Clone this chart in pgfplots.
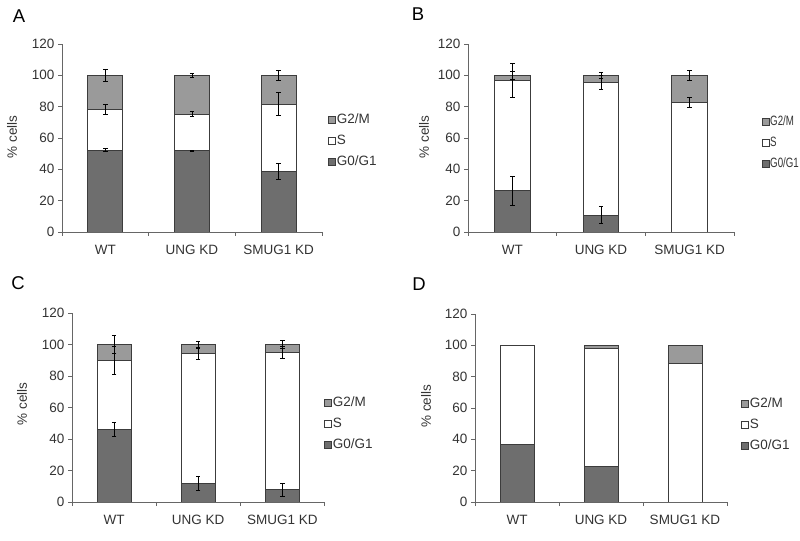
\documentclass[border=0pt]{standalone}
\usepackage{fontspec}
\setmainfont{Liberation Sans}
\newfontfamily\narrowfs[FakeStretch=0.72]{Liberation Sans}
\usepackage{pgfplots}
\usepackage{pgfplotstable}
\pgfplotsset{compat=1.18}
\definecolor{dk}{HTML}{6E6E6E}
\definecolor{lt}{HTML}{9A9A9A}
\definecolor{edge}{HTML}{3C3C3C}
\definecolor{axc}{HTML}{666666}
\definecolor{txt}{HTML}{333333}
\newcommand\fs{\fontsize{13.5bp}{16bp}\selectfont}

\pgfplotstableread{
x g0 g0e s se g2 g2e
0 52.3 1.0 26.0 3.0 21.7 3.7
1 51.8 0.4 23.4 1.7 24.8 1.5
2 38.7 5.0 42.9 7.2 18.4 3.0
}\dataA
\pgfplotstableread{
x g0 g0e s se g2 g2e
0 26.2 9.5 70.4 11.0 3.4 2.4
1 10.8 5.6 84.7 4.5 4.5 2.0
2 0.0 0.0 82.5 3.2 17.5 3.2
}\dataB
\pgfplotstableread{
x g0 g0e s se g2 g2e
0 46.2 4.6 43.7 8.7 10.1 5.5
1 11.9 4.5 82.3 3.5 5.8 2.0
2 7.8 4.3 87.2 3.6 5.0 2.6
}\dataC
\pgfplotstableread{
x g0 s g2
0 37.0 63.0 0.0
1 22.8 75.1 2.1
2 0.0 88.7 11.3
}\dataD

\pgfplotsset{
 frame/.style={scale only axis, anchor=south west, xmin=-0.5, xmax=2.5, ymin=0, ymax=120},
 panel/.style={frame, ybar stacked,
   axis lines*=left, axis line style={axc, line width=0.8bp},
   ytick={0,20,...,120},
   xtick={-0.5,0.5,1.5,2.5}, xticklabels={},
   extra x ticks={0,1,2}, extra x tick labels={WT,UNG KD,SMUG1 KD},
   extra x tick style={major tick length=0pt},
   xticklabel style={yshift=-10bp},
   tick align=outside, major tick length=4bp,
   tick style={axc, line width=0.8bp},
   /pgf/number format/assume math mode=true,
   tick label style={font=\fs, text=txt},
   ylabel={\% cells}, ylabel style={font=\fs, text=txt, anchor=center},
   legend cell align=left,
   legend style={draw=none, fill=none, anchor=west, inner sep=0pt, row sep=8bp, font=\fs,
     nodes={inner xsep=1bp, inner ysep=0pt, text height=10bp, text depth=3bp, text=txt}},
   reverse legend,
 },
 sq/.style={legend image code/.code={\draw[##1, line width=0.6bp] (0bp,-3.5bp) rectangle (7bp,3.5bp);}},
 g0bar/.style={fill=dk, draw=edge, line width=0.9bp, sq},
 sbar/.style={fill=white, draw=edge, line width=0.9bp, sq},
 g2bar/.style={fill=lt, draw=edge, line width=0.9bp, sq},
 eb/.style={draw=none, mark=none, error bars/.cd, y dir=both, y explicit,
   error bar style={draw=black, line width=0.8bp},
   error mark options={draw=black, rotate=90, mark size=2.2bp, line width=0.8bp}},
}

\begin{document}
\begin{tikzpicture}
\path[use as bounding box] (0,0) rectangle (800bp,541bp);

% ---------- A ----------
\begin{axis}[panel, at={(62bp,309bp)}, width=260bp, height=188bp, bar width=35bp,
  ylabel style={at={(axis description cs:-0.192,0.505)}},
  legend style={at={(axis description cs:1.023,0.484)}}]
\addplot[g0bar] table[x=x,y=g0]{\dataA};
\addplot[sbar] table[x=x,y=s]{\dataA};
\addplot[g2bar] table[x=x,y=g2]{\dataA};
\legend{G0/G1,S,G2/M}
\end{axis}
\begin{axis}[frame, hide axis, at={(62bp,309bp)}, width=260bp, height=188bp]
\addplot[eb] table[x=x, y=g0, y error=g0e]{\dataA};
\addplot[eb] table[x=x, y expr=\thisrow{g0}+\thisrow{s}, y error=se]{\dataA};
\addplot[eb] table[x=x, y expr=\thisrow{g0}+\thisrow{s}+\thisrow{g2}, y error=g2e]{\dataA};
\end{axis}

% ---------- B ----------
\begin{axis}[panel, at={(468bp,309bp)}, width=266bp, height=188bp, bar width=35.5bp,
  ylabel style={at={(axis description cs:-0.165,0.505)}},
  legend style={at={(axis description cs:1.103,0.473)}, font={\narrowfs\fs}}]
\addplot[g0bar] table[x=x,y=g0]{\dataB};
\addplot[sbar] table[x=x,y=s]{\dataB};
\addplot[g2bar] table[x=x,y=g2]{\dataB};
\legend{G0/G1,S,G2/M}
\end{axis}
\begin{axis}[frame, hide axis, at={(468bp,309bp)}, width=266bp, height=188bp]
\addplot[eb] table[x=x, y=g0, y error=g0e, skip coords between index={2}{3}]{\dataB};
\addplot[eb] table[x=x, y expr=\thisrow{g0}+\thisrow{s}, y error=se]{\dataB};
\addplot[eb] table[x=x, y expr=\thisrow{g0}+\thisrow{s}+\thisrow{g2}, y error=g2e]{\dataB};
\end{axis}

% ---------- C ----------
\begin{axis}[panel, at={(72bp,39bp)}, width=252.5bp, height=189bp, bar width=34bp,
  ylabel style={at={(axis description cs:-0.198,0.519)}},
  legend style={at={(axis description cs:0.998,0.413)}}]
\addplot[g0bar] table[x=x,y=g0]{\dataC};
\addplot[sbar] table[x=x,y=s]{\dataC};
\addplot[g2bar] table[x=x,y=g2]{\dataC};
\legend{G0/G1,S,G2/M}
\end{axis}
\begin{axis}[frame, hide axis, at={(72bp,39bp)}, width=252.5bp, height=189bp]
\addplot[eb] table[x=x, y=g0, y error=g0e]{\dataC};
\addplot[eb] table[x=x, y expr=\thisrow{g0}+\thisrow{s}, y error=se]{\dataC};
\addplot[eb] table[x=x, y expr=\thisrow{g0}+\thisrow{s}+\thisrow{g2}, y error=g2e]{\dataC};
\end{axis}

% ---------- D ----------
\begin{axis}[panel, at={(475bp,39bp)}, width=252bp, height=188bp, bar width=34bp,
  ylabel style={at={(axis description cs:-0.194,0.51)}},
  legend style={at={(axis description cs:1.056,0.41)}}]
\addplot[g0bar] table[x=x,y=g0]{\dataD};
\addplot[sbar] table[x=x,y=s]{\dataD};
\addplot[g2bar] table[x=x,y=g2]{\dataD};
\legend{G0/G1,S,G2/M}
\end{axis}

\node[font=\fontsize{18.5bp}{20bp}\selectfont] at (19bp,525bp) {A};
\node[font=\fontsize{18.5bp}{20bp}\selectfont] at (418bp,527bp) {B};
\node[font=\fontsize{18.5bp}{20bp}\selectfont] at (18bp,258bp) {C};
\node[font=\fontsize{18.5bp}{20bp}\selectfont] at (419bp,257bp) {D};
\end{tikzpicture}
\end{document}
